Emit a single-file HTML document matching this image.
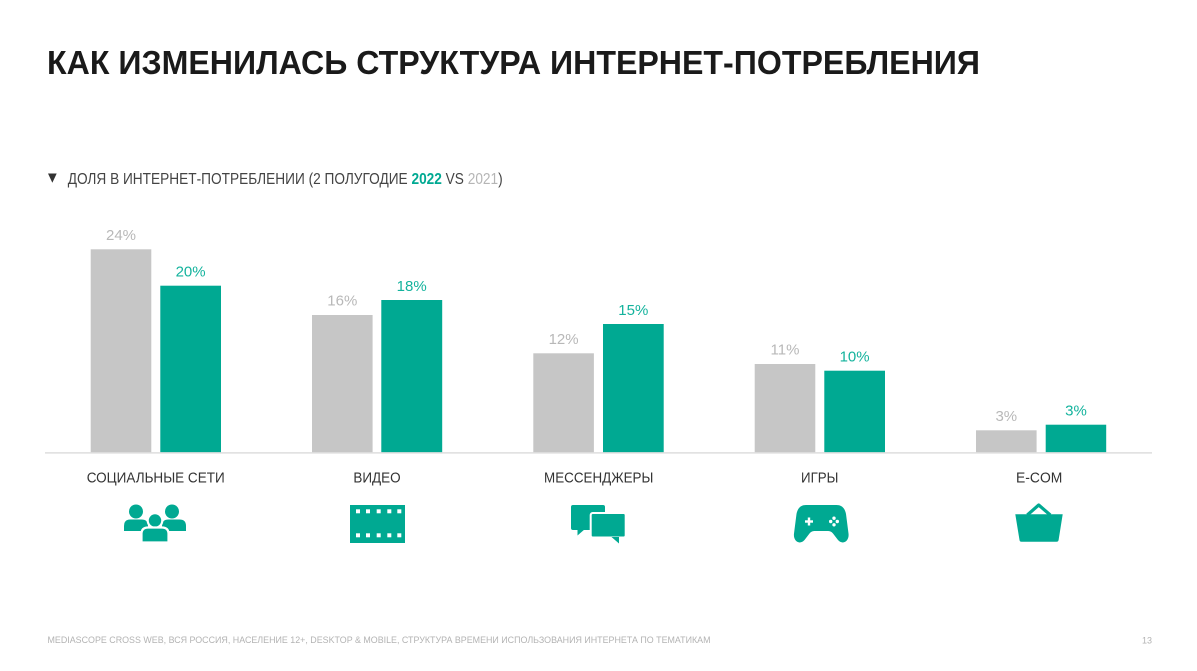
<!DOCTYPE html>
<html>
<head>
<meta charset="utf-8">
<style>
  html, body { margin: 0; padding: 0; background: #ffffff; }
  body { width: 1197px; height: 671px; overflow: hidden; }
  svg { display: block; }
  text { font-family: "Liberation Sans", "DejaVu Sans", sans-serif; }
</style>
</head>
<body>
<svg width="1197" height="671" viewBox="0 0 1197 671" xmlns="http://www.w3.org/2000/svg">
  <!-- Title -->
  <text x="47" y="74" font-size="33" font-weight="bold" fill="#1a1a1a" textLength="933" lengthAdjust="spacingAndGlyphs">КАК ИЗМЕНИЛАСЬ СТРУКТУРА ИНТЕРНЕТ-ПОТРЕБЛЕНИЯ</text>

  <!-- Subtitle -->
  <polygon points="48,173.5 56.7,173.5 52.35,182.7" fill="#333"/>
  <text x="67.7" y="184" font-size="15.5" fill="#444" textLength="435" lengthAdjust="spacingAndGlyphs">ДОЛЯ В ИНТЕРНЕТ-ПОТРЕБЛЕНИИ (2 ПОЛУГОДИЕ <tspan fill="#00a992" font-weight="bold">2022</tspan> VS <tspan fill="#b5b5b5">2021</tspan>)</text>

  <!-- Bars -->
  <g fill="#c6c6c6">
    <rect x="90.7" y="249.3" width="60.6" height="203.4"/>
    <rect x="312" y="315" width="60.6" height="137.7"/>
    <rect x="533.3" y="353.3" width="60.6" height="99.4"/>
    <rect x="754.7" y="364" width="60.6" height="88.7"/>
    <rect x="976" y="430.3" width="60.6" height="22.4"/>
  </g>
  <g fill="#00a992">
    <rect x="160.3" y="285.7" width="60.7" height="167"/>
    <rect x="381.3" y="300" width="60.9" height="152.7"/>
    <rect x="603" y="324" width="60.7" height="128.7"/>
    <rect x="824.3" y="370.7" width="60.7" height="82"/>
    <rect x="1045.7" y="424.7" width="60.5" height="28"/>
  </g>

  <!-- Axis -->
  <line x1="45" y1="452.9" x2="1152" y2="452.9" stroke="#dedede" stroke-width="1.5"/>

  <!-- Value labels -->
  <g font-size="15" fill="#b8b8b8" text-anchor="middle">
    <text x="121" y="240">24%</text>
    <text x="342.3" y="305.5">16%</text>
    <text x="563.6" y="344">12%</text>
    <text x="785" y="354.5">11%</text>
    <text x="1006.3" y="421">3%</text>
  </g>
  <g font-size="15" fill="#14b39d" text-anchor="middle">
    <text x="190.6" y="276.7">20%</text>
    <text x="411.7" y="291">18%</text>
    <text x="633.3" y="315">15%</text>
    <text x="854.6" y="361.7">10%</text>
    <text x="1076" y="415.5">3%</text>
  </g>

  <!-- Category labels -->
  <g font-size="15" fill="#333" text-anchor="middle">
    <text x="155.7" y="482.7" textLength="138" lengthAdjust="spacingAndGlyphs">СОЦИАЛЬНЫЕ СЕТИ</text>
    <text x="377" y="482.7" textLength="47.3" lengthAdjust="spacingAndGlyphs">ВИДЕО</text>
    <text x="598.7" y="482.7" textLength="109.3" lengthAdjust="spacingAndGlyphs">МЕССЕНДЖЕРЫ</text>
    <text x="819.7" y="482.7" textLength="37.3" lengthAdjust="spacingAndGlyphs">ИГРЫ</text>
    <text x="1039.2" y="482.7" textLength="46.3" lengthAdjust="spacingAndGlyphs">E-COM</text>
  </g>

  <!-- Icon: people -->
  <g fill="#00a992">
    <circle cx="136" cy="511.5" r="7"/>
    <circle cx="172" cy="511.5" r="7"/>
    <path d="M124 531 L124 526 Q124 519.5 130.5 519.5 L141.5 519.5 Q148 519.5 148 526 L148 531 Z"/>
    <path d="M162 531 L162 526 Q162 519.5 168.5 519.5 L179.5 519.5 Q186 519.5 186 526 L186 531 Z"/>
    <circle cx="155" cy="520.5" r="7.3" stroke="#fff" stroke-width="2.2"/>
    <path d="M141.5 542.5 L141.5 534 Q141.5 527.5 148 527.5 L162 527.5 Q168.5 527.5 168.5 534 L168.5 542.5 Z" stroke="#fff" stroke-width="2.2"/>
  </g>

  <!-- Icon: film -->
  <rect x="350" y="505" width="55" height="38" fill="#00a992"/>
  <g fill="#ffffff">
    <rect x="356" y="509.3" width="4" height="4"/>
    <rect x="366" y="509.3" width="4" height="4"/>
    <rect x="376.7" y="509.3" width="4" height="4"/>
    <rect x="387.3" y="509.3" width="4" height="4"/>
    <rect x="397.3" y="509.3" width="4" height="4"/>
    <rect x="356" y="533.3" width="4" height="4"/>
    <rect x="366" y="533.3" width="4" height="4"/>
    <rect x="376.7" y="533.3" width="4" height="4"/>
    <rect x="387.3" y="533.3" width="4" height="4"/>
    <rect x="397.3" y="533.3" width="4" height="4"/>
  </g>

  <!-- Icon: chat -->
  <g fill="#00a992">
    <rect x="571" y="505" width="34" height="25" rx="2"/>
    <polygon points="577.5,529 577.5,535.5 585,529"/>
    <rect x="590.7" y="513" width="35" height="24.5" rx="2" stroke="#fff" stroke-width="2"/>
    <polygon points="611.5,537 619,543.5 619,537"/>
  </g>

  <!-- Icon: gamepad -->
  <path fill="#00a992" d="M806 505 L836.5 505 C842.5 505 845 509 846 514 L848.5 533.5 C849.5 541 843 545.5 838 540 L833 533.5 C831.5 531.5 829.5 531 827.5 531 L815 531 C813 531 811 531.5 809.5 533.5 L804.5 540 C799.5 545.5 793 541 794 533.5 L796.5 514 C797.5 509 800 505 806 505 Z"/>
  <g fill="#ffffff">
    <rect x="805" y="520.3" width="8" height="2.4"/>
    <rect x="807.8" y="517.5" width="2.4" height="8"/>
    <circle cx="834" cy="518.2" r="1.7"/>
    <circle cx="834" cy="524.8" r="1.7"/>
    <circle cx="830.7" cy="521.5" r="1.7"/>
    <circle cx="837.3" cy="521.5" r="1.7"/>
  </g>

  <!-- Icon: basket -->
  <polyline points="1027.3,515 1038.7,505 1050.3,515" fill="none" stroke="#00a992" stroke-width="3.2" stroke-linejoin="round"/>
  <path fill="#00a992" d="M1015.3 514.3 L1062.7 514.3 L1058.6 540 Q1058.3 541.8 1056.5 541.8 L1021.5 541.8 Q1019.7 541.8 1019.5 540 Z"/>

  <!-- Footer -->
  <text x="47.5" y="643" font-size="9" fill="#b3b3b3" textLength="663" lengthAdjust="spacingAndGlyphs">MEDIASCOPE CROSS WEB, ВСЯ РОССИЯ, НАСЕЛЕНИЕ 12+, DESKTOP &amp; MOBILE, СТРУКТУРА ВРЕМЕНИ ИСПОЛЬЗОВАНИЯ ИНТЕРНЕТА ПО ТЕМАТИКАМ</text>
  <text x="1152" y="643.5" font-size="9" fill="#b3b3b3" text-anchor="end">13</text>
</svg>
</body>
</html>
